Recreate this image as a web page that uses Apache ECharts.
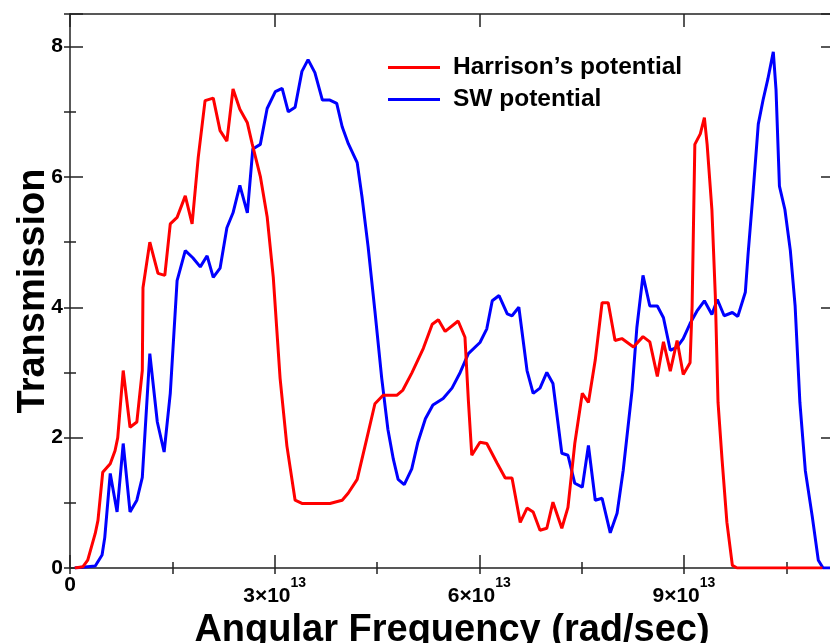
<!DOCTYPE html>
<html>
<head>
<meta charset="utf-8">
<script src="https://cdn.jsdelivr.net/npm/echarts@6/dist/echarts.min.js"></script>
<style>
html,body{margin:0;padding:0;background:#fff;}
#chart{width:830px;height:643px;}
</style>
</head>
<body>
<div id="chart"></div>
<script>
// Frequency in units of 1e13 rad/sec
const harrisonFreq = [0.07,0.19,0.26,0.37,0.41,0.48,0.59,0.66,0.70,0.78,0.88,0.98,1.06,1.07,1.17,1.29,1.39,1.47,1.57,1.69,1.79,1.88,1.98,2.10,2.20,2.30,2.39,2.49,2.60,2.67,2.79,2.89,2.98,3.08,3.18,3.30,3.40,3.81,3.99,4.08,4.21,4.35,4.47,4.59,4.79,4.88,5.01,5.18,5.31,5.40,5.50,5.69,5.79,5.84,5.89,6.01,6.11,6.26,6.38,6.48,6.60,6.70,6.79,6.89,6.99,7.08,7.21,7.30,7.40,7.51,7.60,7.70,7.80,7.89,7.99,8.09,8.26,8.40,8.50,8.61,8.70,8.80,8.90,8.99,9.09,9.12,9.16,9.24,9.30,9.34,9.41,9.46,9.50,9.56,9.63,9.71,9.78,11.03];
const harrisonT = [0,0.02,0.12,0.53,0.73,1.47,1.6,1.8,2.0,3.03,2.16,2.24,3.03,4.3,5.0,4.52,4.49,5.28,5.38,5.71,5.28,6.3,7.17,7.21,6.71,6.55,7.35,7.04,6.83,6.51,6.01,5.39,4.46,2.91,1.87,1.04,0.99,0.99,1.04,1.15,1.36,1.98,2.52,2.65,2.65,2.73,2.99,3.37,3.74,3.81,3.63,3.79,3.54,2.57,1.73,1.93,1.91,1.61,1.38,1.38,0.7,0.92,0.86,0.58,0.61,1.01,0.61,0.93,1.91,2.68,2.54,3.19,4.07,4.07,3.49,3.52,3.39,3.55,3.47,2.94,3.47,3.02,3.49,2.97,3.15,4.02,6.5,6.66,6.91,6.5,5.5,4.18,2.54,1.65,0.7,0.04,0,0];

const swFreq = [0.07,0.37,0.47,0.51,0.59,0.69,0.78,0.88,0.98,1.06,1.17,1.28,1.38,1.47,1.57,1.69,1.80,1.91,2.01,2.10,2.20,2.30,2.39,2.49,2.60,2.68,2.79,2.89,3.01,3.11,3.20,3.30,3.40,3.49,3.59,3.70,3.81,3.91,3.99,4.08,4.21,4.28,4.37,4.47,4.57,4.66,4.74,4.81,4.90,5.01,5.10,5.21,5.32,5.47,5.60,5.72,5.84,6.01,6.11,6.19,6.29,6.41,6.48,6.58,6.70,6.79,6.89,6.99,7.08,7.21,7.30,7.40,7.51,7.60,7.70,7.80,7.92,8.02,8.11,8.24,8.31,8.40,8.50,8.61,8.70,8.80,8.90,8.99,9.09,9.19,9.30,9.41,9.49,9.59,9.71,9.79,9.90,9.94,10.01,10.09,10.16,10.23,10.31,10.35,10.40,10.48,10.56,10.63,10.70,10.78,10.88,10.97,11.04,11.2];
const swT = [0,0.03,0.2,0.47,1.45,0.86,1.91,0.86,1.04,1.39,3.29,2.24,1.78,2.68,4.41,4.87,4.76,4.62,4.79,4.46,4.6,5.22,5.45,5.87,5.45,6.43,6.5,7.05,7.31,7.36,7.0,7.07,7.62,7.8,7.6,7.18,7.18,7.13,6.77,6.51,6.22,5.7,4.93,3.94,2.91,2.13,1.67,1.36,1.28,1.52,1.93,2.29,2.5,2.6,2.76,3.0,3.29,3.46,3.67,4.1,4.18,3.9,3.87,4.0,3.03,2.68,2.76,3.0,2.83,1.76,1.73,1.3,1.24,1.88,1.04,1.07,0.54,0.84,1.5,2.73,3.69,4.49,4.02,4.02,3.84,3.34,3.39,3.52,3.75,3.94,4.1,3.89,4.12,3.87,3.92,3.86,4.23,4.81,5.71,6.81,7.18,7.5,7.92,7.34,5.86,5.5,4.87,4.02,2.54,1.49,0.8,0.12,0,0];

const xTickValues = [0, 3, 6, 9];
const yTickValues = [0, 2, 4, 6, 8];
const seriesNames = ["Harrison\u2019s potential", "SW potential"];

const FONT = "'Liberation Sans', Arial, Helvetica, sans-serif";
const AX = '#222';

function pairs(xs, ys){ return xs.map((x,i)=>[x, ys[i]]); }

const chart = echarts.init(document.getElementById('chart'), null, {renderer:'canvas'});

function baseX(extra){
  return Object.assign({
    type:'value', min:0, max:11.2,
    gridIndex:0,
    splitLine:{show:false},
    axisLine:{show:true, onZero:false, lineStyle:{color:AX, width:1.5}},
    axisLabel:{show:false},
  }, extra);
}
function baseY(extra){
  return Object.assign({
    type:'value', min:0, max:8.5,
    gridIndex:0,
    splitLine:{show:false},
    axisLine:{show:true, onZero:false, lineStyle:{color:AX, width:1.5}},
    axisLabel:{show:false},
  }, extra);
}

const option = {
  animation:false,
  backgroundColor:'#fff',
  textStyle:{fontFamily:FONT},
  grid:{left:70, right:-4, top:14, bottom:75, containLabel:false, outerBoundsMode:'none'},
  legend:{
    orient:'vertical',
    left:388, top:55,
    padding:0,
    itemWidth:52, itemHeight:3,
    itemGap:7,
    icon:'rect',
    data:seriesNames,
    textStyle:{fontFamily:FONT, fontSize:24.5, fontWeight:'bold', color:'#000', padding:[0,0,0,8]}
  },
  xAxis:[
    baseX({
      position:'bottom', interval:3,
      axisTick:{show:true, inside:true, length:13, lineStyle:{color:AX, width:1.5}},
      axisLabel:{
        show:true, margin:8, color:'#000',
        formatter:function(v){
          if (v === 0) return '{z|0}';
          if (xTickValues.indexOf(v) >= 0) return '{b|' + v + '\u00d710}{s|13}';
          return '';
        },
        rich:{
          z:{fontFamily:FONT, fontSize:21, fontWeight:'bold', lineHeight:18, color:'#000'},
          b:{fontFamily:FONT, fontSize:21, fontWeight:'bold', lineHeight:31, verticalAlign:'bottom', color:'#000'},
          s:{fontFamily:FONT, fontSize:14, fontWeight:'bold', lineHeight:14, verticalAlign:'top', color:'#000'}
        }
      },
      name:'Angular Frequency (rad/sec)',
      nameLocation:'middle', nameGap:38,
      nameTextStyle:{fontFamily:FONT, fontSize:38, fontWeight:'bold', color:'#000'}
    }),
    baseX({
      position:'bottom', interval:1.5,
      axisLine:{show:false},
      axisTick:{show:true, inside:true, length:6, lineStyle:{color:AX, width:1.5}}
    }),
    baseX({
      position:'top', interval:3,
      axisTick:{show:true, inside:true, length:13, lineStyle:{color:AX, width:1.5}}
    }),
    baseX({
      position:'top', interval:1.5,
      axisLine:{show:false},
      axisTick:{show:true, inside:true, length:6, lineStyle:{color:AX, width:1.5}}
    })
  ],
  yAxis:[
    baseY({
      position:'left', interval:2,
      axisTick:{show:true, inside:true, length:13, lineStyle:{color:AX, width:1.5}},
      axisLabel:{
        show:true, margin:7, color:'#000',
        fontFamily:FONT, fontSize:21, fontWeight:'bold',
        formatter:function(v){ return yTickValues.indexOf(v) >= 0 ? String(v) : ''; }
      },
      name:'Transmission',
      nameLocation:'middle', nameGap:17, nameRotate:90, nameMoveOverlap:false,
      nameTextStyle:{fontFamily:FONT, fontSize:38, fontWeight:'bold', color:'#000'}
    }),
    baseY({
      position:'left', interval:1,
      axisLine:{show:false},
      axisTick:{show:true, inside:true, length:6, lineStyle:{color:AX, width:1.5}}
    }),
    baseY({
      position:'right', interval:2,
      axisTick:{show:true, inside:true, length:13, lineStyle:{color:AX, width:1.5}}
    }),
    baseY({
      position:'right', interval:1,
      axisLine:{show:false},
      axisTick:{show:true, inside:true, length:6, lineStyle:{color:AX, width:1.5}}
    })
  ],
  series:[
    {
      name:seriesNames[0], type:'line', xAxisIndex:0, yAxisIndex:0,
      data:pairs(harrisonFreq, harrisonT),
      showSymbol:false, symbol:'none',
      lineStyle:{color:'#ff0000', width:3},
      itemStyle:{color:'#ff0000'},
      z:3
    },
    {
      name:seriesNames[1], type:'line', xAxisIndex:0, yAxisIndex:0,
      data:pairs(swFreq, swT),
      showSymbol:false, symbol:'none',
      lineStyle:{color:'#0000ff', width:3},
      itemStyle:{color:'#0000ff'},
      z:2
    }
  ]
};
chart.setOption(option);
</script>
</body>
</html>
